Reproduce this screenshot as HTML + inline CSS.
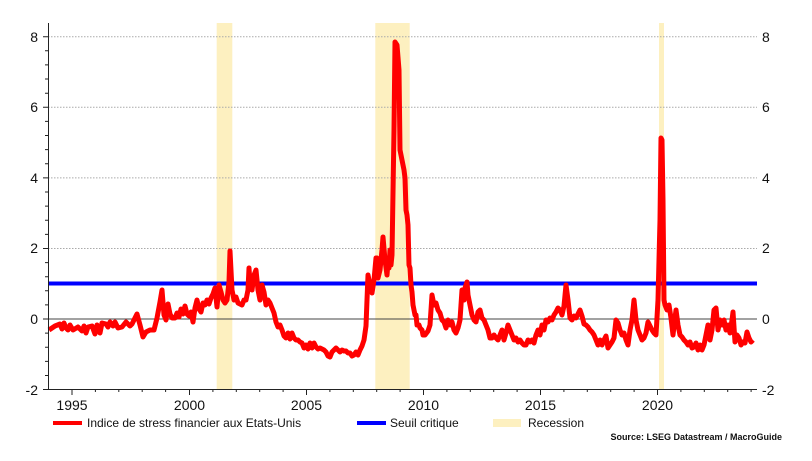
<!DOCTYPE html><html><head><style>body{margin:0;background:#fff}svg{display:block;font-family:"Liberation Sans",sans-serif}</style></head><body>
<svg width="812" height="461" viewBox="0 0 812 461">
<rect x="216.7" y="23" width="15.6" height="366" fill="#fdf0c0"/>
<rect x="375.3" y="23" width="34.4" height="366" fill="#fdf0c0"/>
<rect x="659" y="23" width="5" height="366" fill="#fdf0c0"/>
<g stroke="#aaa" stroke-dasharray="1.5,1.5" stroke-width="1">
<line x1="48" x2="757" y1="36.7" y2="36.7"/><line x1="48" x2="757" y1="107.3" y2="107.3"/><line x1="48" x2="757" y1="177.9" y2="177.9"/><line x1="48" x2="757" y1="248.5" y2="248.5"/></g>
<line x1="48" x2="757" y1="319" y2="319" stroke="#444" stroke-width="1"/>
<line x1="48" x2="757" y1="283.5" y2="283.5" stroke="#0000ff" stroke-width="4"/>
<polyline fill="none" stroke="#ff0000" stroke-width="5" stroke-linejoin="round" points="49,330 55,326 60,324 62,329 64,323 66,328 68,330 70,325 73,330 78,327 82,331 84,326 86,333 88,327 92,326 95,334 97,325 100,333 102,323 106,324 108,327 110,322 113,326 115,322 118,328 122,327 126,322 130,326 132,324 137,314 140,325 143,337 146,332 150,330 154,330 157,318 160,302 162,290 164,315 166,320 168,304 170,314 172,318 175,318 177,313 179,317 181,309 183,314 185,306 187,314 189,316 191,312 193,322 195,308 197,300 199,309 201,312 203,303 205,305 207,300 209,304 211,298 213,294 215,288 217,307 219,285 221,292 223,300 225,303 227,300 229,282 230,251 232,290 234,300 236,297 238,303 240,304 242,305 244,300 246,300 248,290 249,268 250,283 252,290 254,275 256,270 258,290 260,300 262,285 264,292 266,305 268,300 270,303 272,308 274,313 276,322 278,327 280,325 282,330 284,336 286,338 288,333 290,339 292,333 294,338 296,340 298,340 300,342 302,343 304,348 306,345 308,349 310,343 312,348 314,343 316,347 318,349 320,348 322,349 324,350 326,352 328,356 330,357 332,352 334,350 336,348 338,350 340,352 342,350 344,351 346,351 348,353 350,353 352,356 354,355 356,352 358,355 360,350 362,346 364,340 366,326 367,300 368,275 370,285 372,293 374,280 376,258 377,258 378,278 380,270 382,250 383,237 385,260 387,275 388,262 389,268 390,250 391,265 392,255 394,130 395,42 397,45 399,70 400,150 402,160 404,170 405,178 406,210 407,215 408,225 409,265 410,268 411,285 412,292 413,305 415,315 416,315 417,325 419,325 420,328 422,330 423,335 425,335 428,331 430,325 432,295 434,305 436,303 438,310 440,313 442,320 444,322 446,328 448,320 450,325 452,322 454,330 456,333 458,328 460,320 462,290 464,300 465,288 467,282 468,295 470,305 472,315 474,320 476,322 478,312 480,310 482,318 484,320 486,325 488,330 490,338 492,338 494,335 496,338 498,340 500,335 502,330 504,340 506,333 508,325 510,330 512,335 514,340 516,338 518,342 520,340 522,343 524,345 526,345 528,340 530,342 532,340 534,343 536,335 538,330 540,335 542,325 544,330 546,320 548,322 550,318 552,320 554,315 556,312 558,308 560,310 562,315 564,306 566,285 568,300 570,318 572,320 574,316 576,318 578,314 580,310 582,316 584,324 586,325 588,327 590,330 592,332 594,335 596,340 598,345 600,340 602,345 604,340 606,336 608,348 610,345 612,342 614,338 616,320 618,323 620,330 622,335 624,333 626,340 628,345 630,330 632,320 634,300 636,320 638,330 640,335 642,340 644,338 646,333 648,322 650,326 652,330 654,333 656,335 658,300 660,220 661,138 662,140 663,200 664,300 665,305 667,310 669,305 671,318 673,335 675,318 676,310 678,325 680,335 682,337 684,340 686,342 688,345 690,342 692,348 694,347 696,343 698,350 700,345 702,350 704,345 706,335 708,325 710,340 712,330 714,310 716,308 718,330 720,320 722,325 724,320 726,330 728,325 730,333 732,320 733,312 735,342 737,335 739,338 741,345 743,342 745,343 747,332 749,338 751,342 753,340"/>
<g stroke="#222" stroke-width="1">
<line x1="48.5" y1="23" x2="48.5" y2="390"/><line x1="48" y1="389.5" x2="757" y2="389.5"/>
<path d="M43,36.7h5M43,107.3h5M43,177.9h5M43,248.5h5M43,319h5M43,389.5h5M45,50.8h3M45,64.9h3M45,79h3M45,93.2h3M45,121.4h3M45,135.5h3M45,149.6h3M45,163.8h3M45,192h3M45,206.1h3M45,220.2h3M45,234.4h3M45,262.6h3M45,276.7h3M45,290.8h3M45,304.9h3M45,333.1h3M45,347.2h3M45,361.4h3M45,375.5h3"/>
<path d="M72,389v6M189.5,389v6M306.5,389v6M423.5,389v6M540.5,389v6M657.5,389v6M95.4,389v3M118.8,389v3M142.2,389v3M165.6,389v3M212.9,389v3M236.3,389v3M259.7,389v3M283.1,389v3M329.9,389v3M353.3,389v3M376.7,389v3M400.1,389v3M446.9,389v3M470.3,389v3M493.7,389v3M517.1,389v3M563.9,389v3M587.3,389v3M610.7,389v3M634.1,389v3M680.9,389v3M704.3,389v3M727.7,389v3M751.1,389v3"/>
</g>
<g font-size="14" fill="#111" text-anchor="end">
<text x="38" y="42">8</text><text x="38" y="112">6</text><text x="38" y="183">4</text><text x="38" y="253">2</text><text x="38" y="324">0</text><text x="38" y="395">-2</text></g>
<g font-size="14" fill="#111" text-anchor="start">
<text x="762" y="42">8</text><text x="762" y="112">6</text><text x="762" y="183">4</text><text x="762" y="253">2</text><text x="762" y="324">0</text><text x="762" y="395">-2</text></g>
<g font-size="14" fill="#111" text-anchor="middle">
<text x="72" y="410">1995</text><text x="189.5" y="410">2000</text><text x="306.5" y="410">2005</text><text x="423.5" y="410">2010</text><text x="540.5" y="410">2015</text><text x="657.5" y="410">2020</text></g>
<line x1="53" x2="82" y1="423" y2="423" stroke="#ff0000" stroke-width="4"/>
<text x="87" y="427" font-size="12" fill="#111">Indice de stress financier aux Etats-Unis</text>
<line x1="357" x2="386" y1="423" y2="423" stroke="#0000ff" stroke-width="4"/>
<text x="390" y="427" font-size="12" fill="#111">Seuil critique</text>
<rect x="493" y="419" width="28" height="8" fill="#fdf0c0"/>
<text x="528" y="427" font-size="12" fill="#111">Recession</text>
<text x="782" y="440" font-size="9" font-weight="bold" fill="#111" text-anchor="end">Source: LSEG Datastream / MacroGuide</text>
</svg></body></html>
